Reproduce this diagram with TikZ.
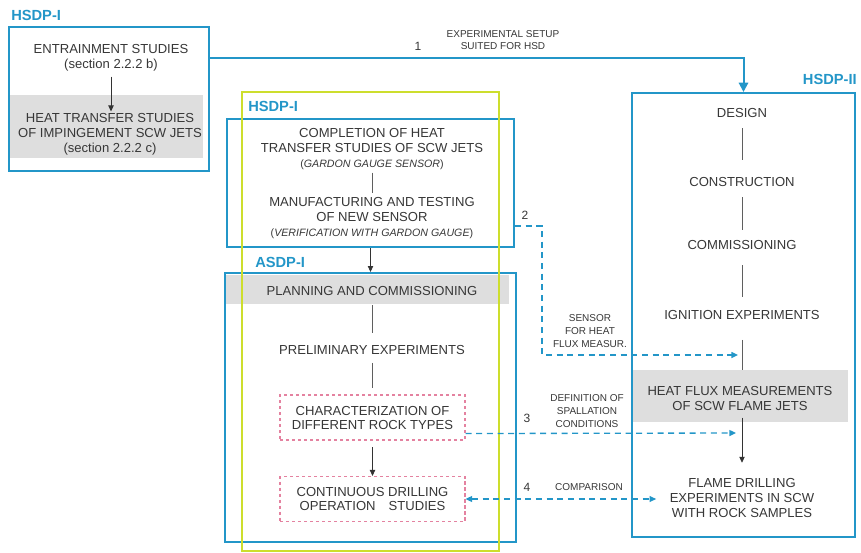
\documentclass[tikz,border=0pt]{standalone}
\usepackage{fontspec}
\setmainfont{Liberation Sans}
\usetikzlibrary{arrows.meta, calc, fit}

\definecolor{hsdblue}{RGB}{35,150,200}
\definecolor{limegreen}{RGB}{205,222,45}
\definecolor{rosedash}{RGB}{228,130,160}
\definecolor{shadegray}{RGB}{222,222,222}
\definecolor{inkgray}{RGB}{55,55,55}

\tikzset{
  frame/.style={draw=hsdblue, line width=1.5pt, inner sep=0pt},
  limeframe/.style={draw=limegreen, line width=1.5pt, inner sep=0pt},
  tag/.style={font=\bfseries\fontsize{11}{13}\selectfont, text=hsdblue, inner sep=0pt},
  txt/.style={align=center, font=\fontsize{9.8}{11.25}\selectfont, text=inkgray, inner sep=1pt},
  note/.style={align=center, font=\fontsize{7.5}{9.5}\selectfont, text=inkgray, inner sep=1pt},
  num/.style={font=\fontsize{9}{11}\selectfont, text=inkgray, inner sep=0pt},
  rockbox/.style={txt, font=\fontsize{9.8}{10.5}\selectfont, draw=rosedash, dash pattern=on 2.5pt off 2pt,
    line width=0.8pt, minimum width=138.75pt, minimum height=33.75pt},
  link/.style={draw=inkgray!80, line width=0.6pt},
  flow/.style={draw=black!80, line width=0.6pt, -{Triangle[width=4pt,length=4.5pt]}},
  blueflow/.style={draw=hsdblue, line width=1.5pt, -{Triangle[width=7pt,length=7pt]}},
  bluedash/.style={draw=hsdblue, line width=1pt, dash pattern=on 4.5pt off 3.5pt,
    -{Triangle[width=4.5pt,length=5pt]}},
}

\begin{document}
\begin{tikzpicture}[x=0.75pt, y=-0.75pt]
  \useasboundingbox (0,0) rectangle (861,553);

  % grey bands
  \fill[shadegray] (10,95) rectangle (203,158);
  \fill[shadegray] (225,275) rectangle (509,304);
  \fill[shadegray] (633,370) rectangle (848,422);

  % frames
  \node[frame, fit={(9,27) (209,171)}] (hsdpA) {};
  \node[frame, fit={(227,119) (514,247)}] (hsdpC) {};
  \node[frame, fit={(225,273) (516,542)}] (asdp) {};
  \node[frame, fit={(632,93) (855,537)}] (hsdpB) {};
  \node[limeframe, fit={(242,92) (499,551)}] (outerA) {};

  \node[tag, anchor=west] (tagA) at (11,15) {HSDP-I};
  \node[tag, anchor=west] (tagC) at (248,106) {HSDP-I};
  \node[tag, anchor=west] (tagD) at (255,262) {ASDP-I};
  \node[tag, anchor=east] (tagB) at (857,79) {HSDP-II};

  % first stage
  \node[txt] (entrain) at (111,57.5) {ENTRAINMENT STUDIES\\(section 2.2.2 b)};
  \node[txt] (heatjets) at (110,134) {HEAT TRANSFER STUDIES\\OF IMPINGEMENT SCW JETS\\(section 2.2.2 c)};
  \draw[flow, shorten <=3pt] (entrain.south) -- (entrain.south |- heatjets.north);

  % sensor block
  \node[txt] (complete) at (372,149) {COMPLETION OF HEAT\\TRANSFER STUDIES OF SCW JETS\\{\fontsize{8}{10}\selectfont(\textit{GARDON GAUGE SENSOR})}};
  \node[txt] (manuf) at (372,218) {MANUFACTURING AND TESTING\\OF NEW SENSOR\\{\fontsize{8}{10}\selectfont(\textit{VERIFICATION WITH GARDON GAUGE})}};
  \draw[link, shorten <=1pt, shorten >=2pt] (complete) -- (manuf);
  \draw[flow] (hsdpC.south) -- (asdp.north);

  % ASDP-I
  \node[txt] (plan) at (372,291) {PLANNING AND COMMISSIONING};
  \node[txt] (prelim) at (372,350) {PRELIMINARY EXPERIMENTS};
  \node[rockbox] (charbox) at (372.5,417.5) {CHARACTERIZATION OF\\DIFFERENT ROCK TYPES};
  \node[rockbox] (drillbox) at (372.5,499) {CONTINUOUS DRILLING\\OPERATION\quad STUDIES};
  \draw[link, shorten <=6pt, shorten >=8pt] (plan) -- (prelim);
  \draw[link, shorten <=5pt, shorten >=5pt] (prelim.south) -- (prelim.south |- charbox.north);
  \draw[flow, shorten <=5pt] (charbox) -- (drillbox);

  % HSDP-II
  \node[txt] (design) at (742,113) {DESIGN};
  \node[txt] (construct) at (742,182) {CONSTRUCTION};
  \node[txt] (commiss) at (742,245) {COMMISSIONING};
  \node[txt] (ignite) at (742,315) {IGNITION EXPERIMENTS};
  \node[txt] (heatflux) at (740,398) {HEAT FLUX MEASUREMENTS\\OF SCW FLAME JETS};
  \node[txt] (flame) at (742,498) {FLAME DRILLING\\EXPERIMENTS IN SCW\\WITH ROCK SAMPLES};
  \draw[link, shorten <=6.75pt, shorten >=12pt] (design) -- (construct);
  \draw[link, shorten <=6.75pt, shorten >=6.75pt] (construct) -- (commiss);
  \draw[link, shorten <=10.5pt, shorten >=9pt] (commiss) -- (ignite);
  \draw[link, shorten <=14pt, shorten >=11pt] (ignite.south) -- (ignite.south |- heatflux.north);
  \draw[flow, shorten <=4.5pt, shorten >=10.5pt] (heatflux.south -| flame.north) -- (flame.north);

  % links between the projects
  \draw[blueflow] ($(hsdpA.north east)+(0,32)$) -| (hsdpB.north);
  \node[num] (n1) at (418,46) {1};
  \node[note] (setup) at (503,40) {EXPERIMENTAL SETUP\\SUITED FOR HSD};

  \coordinate (bend2) at (542,355);
  \coordinate (fluxin) at (738,355);
  \draw[bluedash] ($(hsdpC.south east)+(0,-22)$) -| (bend2) -- (fluxin);
  \node[num] (n2) at (525,215) {2};
  \node[note] (sensor) at (590,331) {SENSOR\\FOR HEAT\\FLUX MEASUR.};

  \coordinate (spallin) at (736,433);
  \draw[bluedash] ($(charbox.south east)+(0,-7)$) -- (spallin);
  \node[num] (n3) at (527,418) {3};
  \node[note] (spall) at (587,411) {DEFINITION OF\\SPALLATION\\CONDITIONS};

  \draw[bluedash, {Triangle[width=4.5pt,length=5pt]}-{Triangle[width=4.5pt,length=5pt]}, shorten >=9pt]
    (drillbox.east) -- (drillbox.east -| flame.west);
  \node[num] (n4) at (527,487) {4};
  \node[note] (compare) at (589,487) {COMPARISON};
\end{tikzpicture}
\end{document}
